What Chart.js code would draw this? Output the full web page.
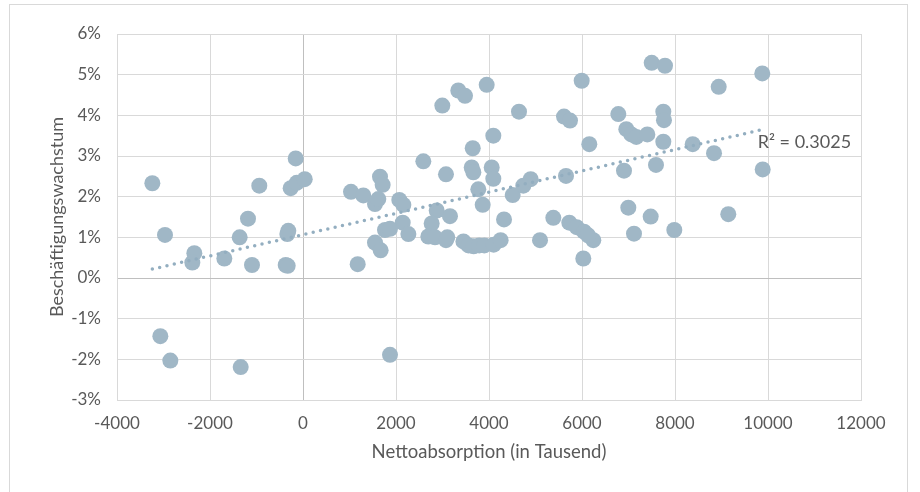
<!DOCTYPE html>
<html>
<head>
<meta charset="utf-8">
<script src="https://cdn.jsdelivr.net/npm/chart.js@4/dist/chart.umd.min.js"></script>
<style>
  html, body { margin: 0; padding: 0; background: #fff; }
  canvas { display: block; }
</style>
</head>
<body>
<canvas id="chart" width="920" height="492"></canvas>
<script>
'use strict';

// Nettoabsorption (in Tausend)
const nettoAbsorption = [
    -3240, -2968, -2337, -2380, -1692, -1362, -1183, -1097, -940, -372,
    -329, -316, -337, -265, -157, -135, 37, -3068, -2853, -1340,
    1032, 1297, 1656, 1713, 1548, 1620, 2071, 2158, 2144, 2266,
    1763, 1871, 1548, 1670, 1176, 1871, 2588, 3075, 2875, 2767,
    3161, 2695, 2839, 3075, 3103, 3628, 3663, 4058, 4093, 3770,
    3864, 4323, 4510, 4738, 4896, 5097, 3450, 3560, 3670, 3790,
    3900, 4100, 4250, 2996, 3340, 3484, 3950, 4645, 4093, 3650,
    5993, 7499, 7785, 9877, 8940, 5613, 5742, 6781, 7749, 7763,
    6953, 7061, 7168, 7405, 7749, 6157, 8381, 8839, 9886, 6903,
    7591, 5656, 6996, 7477, 7118, 7985, 9146, 5727, 5886, 6043,
    6243, 6028, 5383, 6130
];

// Beschäftigungswachstum in %
const wachstum = [
    2.33, 1.06, 0.61, 0.38, 0.48, 1.00, 1.46, 0.32, 2.27, 0.32,
    0.30, 1.16, 1.08, 2.21, 2.94, 2.34, 2.43, -1.43, -2.03, -2.19,
    2.12, 2.03, 2.49, 2.29, 1.82, 1.94, 1.92, 1.80, 1.36, 1.08,
    1.18, 1.21, 0.87, 0.68, 0.34, -1.89, 2.87, 2.55, 1.66, 1.34,
    1.52, 1.02, 1.00, 0.93, 1.00, 2.72, 2.60, 2.72, 2.44, 2.18,
    1.80, 1.44, 2.04, 2.27, 2.43, 0.93, 0.90, 0.80, 0.78, 0.80,
    0.80, 0.82, 0.93, 4.24, 4.61, 4.48, 4.75, 4.09, 3.50, 3.19,
    4.85, 5.29, 5.22, 5.03, 4.70, 3.97, 3.87, 4.03, 4.09, 3.88,
    3.66, 3.53, 3.47, 3.53, 3.35, 3.29, 3.29, 3.07, 2.67, 2.64,
    2.78, 2.51, 1.73, 1.51, 1.09, 1.18, 1.57, 1.36, 1.25, 1.14,
    0.93, 0.48, 1.48, 1.05
];

// linearer Trend (Endpunkte)
const trendX = [-3240, 9886];
const trendY = [0.22, 3.65];
const trendLabel = 'R\u00B2 = 0.3025';

const xMin = -4000, xMax = 12000, xStep = 2000;
const yMin = -3, yMax = 6, yStep = 1;

const pointColor = '#A0B7C6';
const textColor = '#595959';
const gridColor = '#D9D9D9';
const zeroColor = '#BFBFBF';
const fontFamily = 'Lato, "Open Sans", sans-serif';

const points = nettoAbsorption.map((x, i) => ({ x: x, y: wachstum[i] }));
const trend = trendX.map((x, i) => ({ x: x, y: trendY[i] }));

// outer frame + R² label
const decoPlugin = {
    id: 'deco',
    beforeDraw(chart) {
        const ctx = chart.ctx;
        ctx.save();
        ctx.fillStyle = '#fff';
        ctx.fillRect(0, 0, chart.width, chart.height);
        ctx.strokeStyle = gridColor;
        ctx.lineWidth = 1;
        ctx.strokeRect(9.5, 4.5, 898, 492);
        ctx.restore();
    },
    afterDatasetsDraw(chart) {
        const ctx = chart.ctx;
        const xs = chart.scales.x, ys = chart.scales.y;
        ctx.save();
        ctx.font = '18px ' + fontFamily;
        ctx.fillStyle = textColor;
        ctx.textBaseline = 'middle';
        ctx.textAlign = 'left';
        ctx.fillText(trendLabel, xs.getPixelForValue(trendX[1]) - 5, ys.getPixelForValue(3.35));
        ctx.restore();
    }
};

new Chart(document.getElementById('chart'), {
    type: 'scatter',
    data: {
        datasets: [{
            type: 'line',
            data: trend,
            order: 0,
            borderColor: '#93AEC0',
            borderWidth: 3.5,
            borderDash: [0, 7.5],
            borderCapStyle: 'round',
            pointRadius: 0,
            fill: false
        }, {
            data: points,
            order: 1,
            backgroundColor: pointColor,
            borderWidth: 0,
            pointRadius: 8,
            pointHoverRadius: 8
        }]
    },
    options: {
        responsive: false,
        animation: false,
        devicePixelRatio: 1,
        layout: { padding: { top: 34, right: 59, left: 0, bottom: 0 } },
        plugins: {
            legend: { display: false },
            tooltip: { enabled: false }
        },
        scales: {
            x: {
                type: 'linear',
                min: xMin,
                max: xMax,
                afterFit(scale) { scale.height = 92; },
                ticks: {
                    stepSize: xStep,
                    color: textColor,
                    padding: 13,
                    maxRotation: 0,
                    font: { family: fontFamily, size: 17 },
                    callback: v => String(v)
                },
                grid: {
                    drawTicks: false,
                    color: ctx => ctx.tick && ctx.tick.value === 0 ? zeroColor : gridColor
                },
                border: { display: true, color: gridColor },
                title: {
                    display: true,
                    text: 'Nettoabsorption (in Tausend)',
                    color: textColor,
                    font: { family: fontFamily, size: 18.5 },
                    padding: { top: 0, bottom: 29 }
                }
            },
            y: {
                min: yMin,
                max: yMax,
                afterFit(scale) { scale.width = 117; },
                ticks: {
                    stepSize: yStep,
                    color: textColor,
                    padding: 16,
                    font: { family: fontFamily, size: 17 },
                    callback: v => v + '%'
                },
                grid: {
                    drawTicks: false,
                    color: ctx => ctx.tick && ctx.tick.value === 0 ? zeroColor : gridColor
                },
                border: { display: true, color: gridColor },
                title: {
                    display: true,
                    text: 'Beschäftigungswachstum',
                    color: textColor,
                    font: { family: fontFamily, size: 18 },
                    padding: { top: 46, bottom: 0 }
                }
            }
        }
    },
    plugins: [decoPlugin]
});
</script>
</body>
</html>
